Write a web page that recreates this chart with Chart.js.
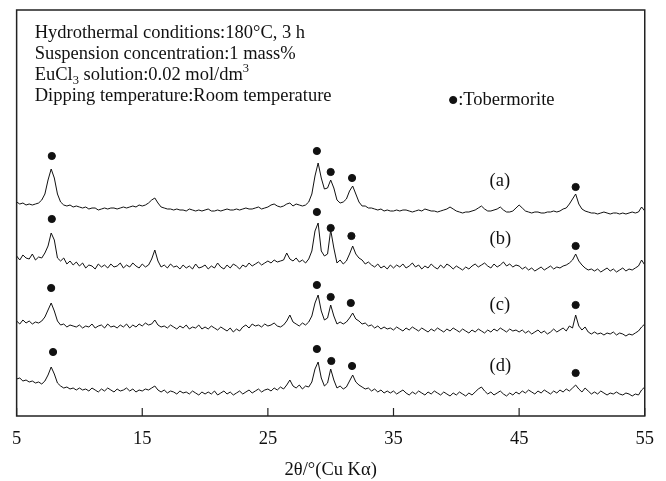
<!DOCTYPE html>
<html>
<head>
<meta charset="utf-8">
<script src="https://cdn.jsdelivr.net/npm/chart.js@4.4.1/dist/chart.umd.min.js"></script>
<style>
html,body{margin:0;padding:0;background:#fff;}
#wrap{width:666px;height:481px;position:relative;}
</style>
</head>
<body>
<div id="wrap"><canvas id="c" width="666" height="481"></canvas></div>
<script>
// ---- data (2θ grid 5°–55°, step 0.25°; intensities in arbitrary offset units) ----
const angleStart = 5;
const angleStep = 0.25;
const tickValues = [5, 15, 25, 35, 45, 55];

const traceA = [
214,212,213,211,212,211,212,213,216,222,236,247,238,222,214,211,210,211,209,210,
209,208,209,207,208,208,206,207,208,207,208,208,207,208,209,208,209,210,209,211,
210,211,213,216,218,213,209,208,207,207,206,207,206,206,205,207,206,205,206,205,
206,207,205,205,206,205,206,207,206,206,207,206,207,208,207,207,208,209,207,208,
209,211,212,210,209,210,212,213,210,212,211,210,211,214,222,240,253,238,227,228,
236,228,216,213,214,217,225,230,222,214,210,210,208,208,207,206,207,205,206,205,
205,206,205,206,206,205,204,205,206,205,207,206,205,205,204,205,206,207,209,207,
205,204,203,204,204,205,206,208,210,207,205,205,206,207,209,206,204,204,205,208,
211,208,205,204,203,204,204,203,203,204,204,205,204,205,207,208,212,217,222,212,
207,205,204,203,203,202,203,204,203,202,203,203,202,203,202,203,204,203,204,209,205];

const traceB = [
160,156,161,158,157,162,156,159,158,163,170,183,176,158,155,158,152,155,151,154,
150,153,148,151,150,147,152,149,151,148,152,149,150,153,148,151,149,153,150,148,
152,149,151,157,166,155,149,151,148,152,149,150,147,151,148,150,147,152,148,149,
151,147,150,148,153,149,147,151,148,152,150,147,151,149,153,150,152,154,151,153,
155,153,156,154,155,156,163,157,155,158,154,156,153,157,165,185,193,165,160,162,
186,168,153,156,152,155,162,170,162,158,156,152,154,151,149,152,148,150,147,151,
148,151,149,152,148,150,153,149,151,147,150,148,152,149,147,151,148,152,150,147,
150,148,146,149,147,150,152,149,151,153,150,148,152,149,151,154,150,152,149,151,
150,147,149,146,148,145,147,149,146,148,150,147,149,148,150,151,153,156,162,155,
151,148,146,147,145,147,144,146,148,145,147,144,146,148,145,147,146,148,150,156,151];

const traceC = [
95,92,96,93,95,92,94,93,95,99,106,113,105,95,91,92,89,91,90,89,
91,88,90,89,92,88,90,91,88,92,89,90,88,91,89,92,88,91,89,92,
90,93,91,92,96,91,89,90,88,91,89,87,90,88,91,87,89,88,91,87,
89,87,90,88,86,89,87,85,88,84,87,85,89,91,88,92,90,91,89,92,
90,91,93,90,89,91,95,101,94,92,90,93,91,94,100,113,121,105,96,98,
111,100,92,94,92,94,98,103,97,95,92,93,90,91,88,90,87,89,87,88,
86,89,87,85,88,86,89,87,85,88,86,84,87,85,88,86,84,87,85,88,
86,84,87,85,83,86,84,87,85,83,86,84,87,85,88,86,84,87,85,86,
84,86,83,85,82,84,86,83,85,82,84,87,84,86,88,85,90,88,101,90,
86,89,84,82,84,82,83,81,83,82,84,81,83,82,80,82,81,83,85,89,92];

const traceD = [
37,38,35,36,34,35,33,34,32,35,41,49,42,33,30,28,29,27,28,26,
28,26,27,25,28,26,24,27,25,28,26,24,27,25,26,28,25,27,24,26,
25,27,26,28,30,26,24,26,23,25,24,22,25,23,24,22,25,23,21,24,
22,24,22,25,21,23,25,22,24,21,23,25,22,24,26,23,25,27,24,26,
27,25,28,26,29,27,31,36,30,28,31,27,30,29,34,47,54,38,30,33,
47,36,28,30,27,29,35,41,34,31,29,27,28,25,27,24,26,23,25,23,
25,22,24,26,23,21,24,22,25,23,21,24,22,25,23,21,24,22,20,23,
21,24,22,20,23,21,24,27,29,25,22,24,21,23,25,22,20,23,21,24,
22,25,23,26,24,22,25,23,26,24,22,25,23,26,24,27,25,28,31,27,
24,28,25,22,24,22,25,23,21,23,22,24,22,21,23,22,20,22,21,26,29];

// Tobermorite peak markers [2θ, height]
const markA = [[7.8,260],[28.9,265],[30.0,244],[31.7,238],[49.5,229]];
const markB = [[7.8,197],[28.9,204],[30.0,188],[31.65,180],[49.5,170]];
const markC = [[7.75,128],[28.9,131],[30.0,119],[31.6,113],[49.5,111]];
const markD = [[7.9,64],[28.9,67],[30.05,55],[31.7,50],[49.5,43]];
const legendMark = [[39.75,316]];

const traceLabels = ['(a)', '(b)', '(c)', '(d)'];
const traceLabelPos = [[42.65,235],[42.65,177],[42.65,111],[42.65,50]];

const xTitle = '2θ/°(Cu Kα)';

// ---- build ----
const twoTheta = traceA.map((_, i) => angleStart + i * angleStep);
const toXY = arr => arr.map((v, i) => ({x: twoTheta[i], y: v}));
const toPts = arr => arr.map(p => ({x: p[0], y: p[1]}));

const SERIF = "'Liberation Serif', 'Times New Roman', serif";
const FS = 18.5;

function lineDs(arr){
  return {type:'line', data: toXY(arr), borderColor:'#111', borderWidth:1, pointRadius:0, tension:0, fill:false};
}
function dotDs(arr){
  return {type:'scatter', data: toPts(arr), backgroundColor:'#111', borderColor:'#111', pointRadius:3.6, pointHoverRadius:3.6, showLine:false};
}

function drawRuns(ctx, x, y, runs){
  let cx = x;
  runs.forEach(r => {
    ctx.font = (r.size || FS) + 'px ' + SERIF;
    ctx.fillText(r.t, cx, y + (r.dy || 0));
    cx += ctx.measureText(r.t).width;
  });
}

const overlay = {
  id: 'overlay',
  afterDraw(chart){
    const {ctx, chartArea: a, scales: {x, y}} = chart;
    ctx.save();
    ctx.strokeStyle = '#222';
    ctx.lineWidth = 1.5;
    ctx.strokeRect(a.left, a.top, a.right - a.left, a.bottom - a.top);
    ctx.lineWidth = 1.2;
    tickValues.forEach(v => {
      const px = x.getPixelForValue(v);
      ctx.beginPath(); ctx.moveTo(px, a.bottom); ctx.lineTo(px, a.bottom - 8); ctx.stroke();
    });
    ctx.fillStyle = '#111';
    ctx.textBaseline = 'alphabetic';
    ctx.textAlign = 'left';
    const tx = a.left + 18;
    drawRuns(ctx, tx, a.top + 28, [{t:'Hydrothermal conditions:180°C, 3 h'}]);
    drawRuns(ctx, tx, a.top + 49, [{t:'Suspension concentration:1 mass%'}]);
    drawRuns(ctx, tx, a.top + 70, [{t:'EuCl'},{t:'3', size:12.5, dy:4},{t:' solution:0.02 mol/dm'},{t:'3', size:12.5, dy:-8}]);
    drawRuns(ctx, tx, a.top + 91, [{t:'Dipping temperature:Room temperature'}]);
    const lx = x.getPixelForValue(legendMark[0][0]) + 5;
    const ly = y.getPixelForValue(legendMark[0][1]);
    ctx.textBaseline = 'middle';
    drawRuns(ctx, lx, ly, [{t:':Tobermorite'}]);
    traceLabels.forEach((t, i) => {
      drawRuns(ctx, x.getPixelForValue(traceLabelPos[i][0]), y.getPixelForValue(traceLabelPos[i][1]), [{t}]);
    });
    ctx.restore();
  }
};

new Chart(document.getElementById('c'), {
  data: {
    datasets: [
      lineDs(traceA), lineDs(traceB), lineDs(traceC), lineDs(traceD),
      dotDs(markA), dotDs(markB), dotDs(markC), dotDs(markD), dotDs(legendMark)
    ]
  },
  options: {
    responsive: false,
    animation: false,
    events: [],
    layout: {padding: {left: 12, right: 12, top: 10, bottom: 0}},
    plugins: {legend: {display: false}, tooltip: {enabled: false}},
    scales: {
      x: {
        type: 'linear', min: 5, max: 55,
        grid: {display: false, drawTicks: false},
        border: {display: false},
        ticks: {stepSize: 10, padding: 12, color: '#111', font: {family: SERIF, size: FS}, maxRotation: 0,
                callback: v => String(v)},
        title: {display: true, text: xTitle, color: '#111', font: {family: SERIF, size: FS}, padding: {top: 0, bottom: 0}},
        afterFit: s => { s.height = 65; }
      },
      y: {type: 'linear', min: 0, max: 406, display: false}
    }
  },
  plugins: [overlay]
});
</script>
</body>
</html>
